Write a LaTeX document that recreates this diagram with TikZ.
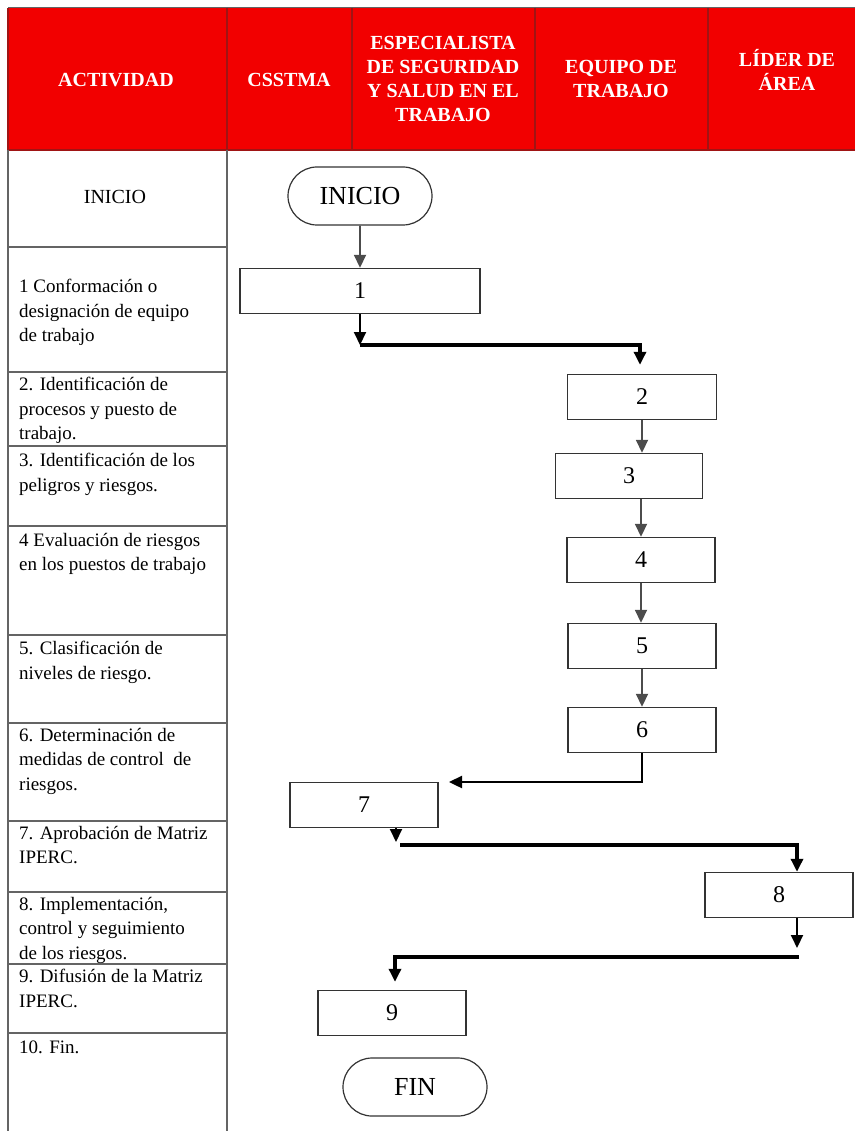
\documentclass[tikz,border=0pt]{standalone}
\usepackage{fontspec}
\setmainfont{Liberation Serif}
\usetikzlibrary{arrows.meta,shapes.misc}

\definecolor{rojo}{RGB}{242,0,0}
\definecolor{rojooscuro}{RGB}{160,20,20}
\definecolor{grislinea}{RGB}{100,100,100}

\begin{document}
\begin{tikzpicture}[x=1pt,y=-1pt,
	caja/.style={draw=black!80, line width=1.4pt, minimum width=148pt, minimum height=45pt, inner sep=0pt, font=\fontsize{24}{24}\selectfont},
	terminal/.style={draw=black!80, line width=1.2pt, rounded rectangle, minimum width=144pt, minimum height=58pt, inner sep=0pt, font=\fontsize{26}{26}\selectfont},
	flecha/.style={draw=black!70, line width=1.8pt, -{Triangle[width=12pt,length=13pt]}},
	flechanegra/.style={draw=black, line width=3.2pt, -{Triangle[width=12pt,length=13pt]}},
	cabecera/.style={text=white, align=center, font=\bfseries\fontsize{20}{24}\selectfont},
	actividad/.style={anchor=north west, inner sep=0pt, align=left, font=\fontsize{19}{24.5}\selectfont},
	tabla/.style={draw=grislinea, line width=1.4pt}]
\useasboundingbox (0,0) rectangle (855,1131);

% cabecera
\fill[rojo] (8,8) rectangle (855,150);
\draw[grislinea, line width=1pt] (8,8) -- (855,8);
\draw[rojooscuro, line width=1.2pt]
	(8,8) -- (8,150)
	(8,150) -- (855,150);
\foreach \x in {227,352,535,708}
	\draw[rojooscuro, line width=1.2pt] (\x,8) -- (\x,150);

\node[cabecera] (hActividad) at (116,80) {ACTIVIDAD};
\node[cabecera] (hCsstma) at (289,80) {CSSTMA};
\node[cabecera] (hEspecialista) at (443,79) {ESPECIALISTA\\DE SEGURIDAD\\Y SALUD EN EL\\TRABAJO};
\node[cabecera] (hEquipo) at (621,79) {EQUIPO DE\\TRABAJO};
\node[cabecera] (hLider) at (787,70) {LÍDER DE\\ÁREA};

% columna de actividades
\draw[tabla]
	(8,150) -- (8,1131)
	(227,150) -- (227,1131);
\foreach \y in {247,372,446,526,635,723,821,892,964,1033}
	\draw[tabla] (8,\y) -- (227,\y);

\node[font=\fontsize{20}{20}\selectfont] (a0) at (115,197) {INICIO};
\node[actividad] (a1) at (19,279) {1 Conformación o\\designación de equipo\\de trabajo};
\node[actividad] (a2) at (19,377) {2. Identificación de\\procesos y puesto de\\trabajo.};
\node[actividad] (a3) at (19,453) {3. Identificación de los\\peligros y riesgos.};
\node[actividad] (a4) at (19,533) {4 Evaluación de riesgos\\en los puestos de trabajo};
\node[actividad] (a5) at (19,641) {5. Clasificación de\\niveles de riesgo.};
\node[actividad] (a6) at (19,728) {6. Determinación de\\medidas de control\ \ de\\riesgos.};
\node[actividad] (a7) at (19,826) {7. Aprobación de Matriz\\IPERC.};
\node[actividad] (a8) at (19,897) {8. Implementación,\\control y seguimiento\\de los riesgos.};
\node[actividad] (a9) at (19,969) {9. Difusión de la Matriz\\IPERC.};
\node[actividad] (a10) at (19,1041) {10. Fin.};

% diagrama
\node[terminal] (inicio) at (360,196) {INICIO};
\node[caja, minimum width=240pt] (p1) at (360,291) {1};
\node[caja, minimum width=149pt] (p2) at (642,397) {2};
\node[caja, minimum width=147pt] (p3) at (629,476) {3};
\node[caja] (p4) at (641,560) {4};
\node[caja] (p5) at (642,646) {5};
\node[caja] (p6) at (642,730) {6};
\node[caja] (p7) at (364,805) {7};
\node[caja] (p8) at (779,895) {8};
\node[caja] (p9) at (392,1013) {9};
\node[terminal] (fin) at (415,1087) {FIN};

\coordinate (c1) at (360,345);
\coordinate (c6) at (449,782);
\coordinate (c7) at (396,842);
\coordinate (c8) at (797,948);
\coordinate (c9) at (799,957);

\draw[flecha] (inicio) -- (p1);
\draw[flechanegra, line width=2pt] (p1) -- (c1);
\draw[flechanegra, shorten >=9pt] (c1) -| ([xshift=-2pt]p2.north);
\draw[flecha] (p2.south) -- (p2.south |- p3.north);
\draw[flecha] (p4.north |- p3.south) -- (p4.north);
\draw[flecha] (p4.south) -- (p4.south |- p5.north);
\draw[flecha] (p5) -- (p6);
\draw[flechanegra, line width=2.4pt] (p6.south) |- (c6);
\draw[flechanegra, line width=2pt] (p7.south -| c7) -- (c7);
\draw[flechanegra] ([xshift=4pt,yshift=-3pt]c7) -| ([xshift=18pt]p8.north);
\draw[flechanegra, line width=2pt] ([xshift=18pt]p8.south) -- (c8);
\draw[flechanegra, shorten >=8pt] (c9) -| ([xshift=3pt]p9.north);

\end{tikzpicture}
\end{document}
